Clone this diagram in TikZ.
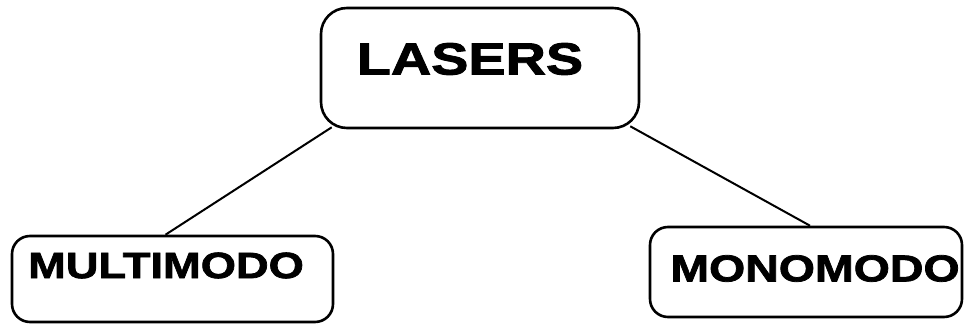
\documentclass[tikz,border=0pt]{standalone}
\usepackage{fontspec}
\newfontfamily\boxfont[FakeStretch=1.24,FakeBold=2]{Liberation Sans Bold}
\begin{document}
\begin{tikzpicture}[x=1pt,y=1pt,
  box/.style={draw=black,line width=2.6pt,fill=none,inner sep=0pt},
  lbl/.style={inner sep=0pt,anchor=center,text=black},
  link/.style={draw=black,line width=2pt}]
\useasboundingbox[fill=white] (0,0) rectangle (964,327);
% boxes
\node[box,rounded corners=26pt,minimum width=318pt,minimum height=120pt] (lasers) at (480,259) {};
\node[box,rounded corners=18pt,minimum width=321pt,minimum height=86pt] (multi) at (172.5,48) {};
\node[box,rounded corners=18pt,minimum width=312pt,minimum height=90pt] (mono) at (806,55) {};
% labels
\node[lbl,font=\boxfont\fontsize{45}{47}\selectfont] (lasersT) at (470,268) {LASERS};
\node[lbl,font=\boxfont\fontsize{36.5}{38}\selectfont] (multiT) at (166,61.5) {MULTIMODO};
\node[lbl,font=\boxfont\fontsize{37.5}{39}\selectfont] (monoT) at (815,58.5) {MONOMODO};
% connectors
\draw[link] ([shift={(12,2)}]lasers.south west) -- ([xshift=-7pt]multi.north);
\draw[link] ([shift={(-10,3)}]lasers.south east) -- ([xshift=4pt]mono.north);
\end{tikzpicture}
\end{document}
